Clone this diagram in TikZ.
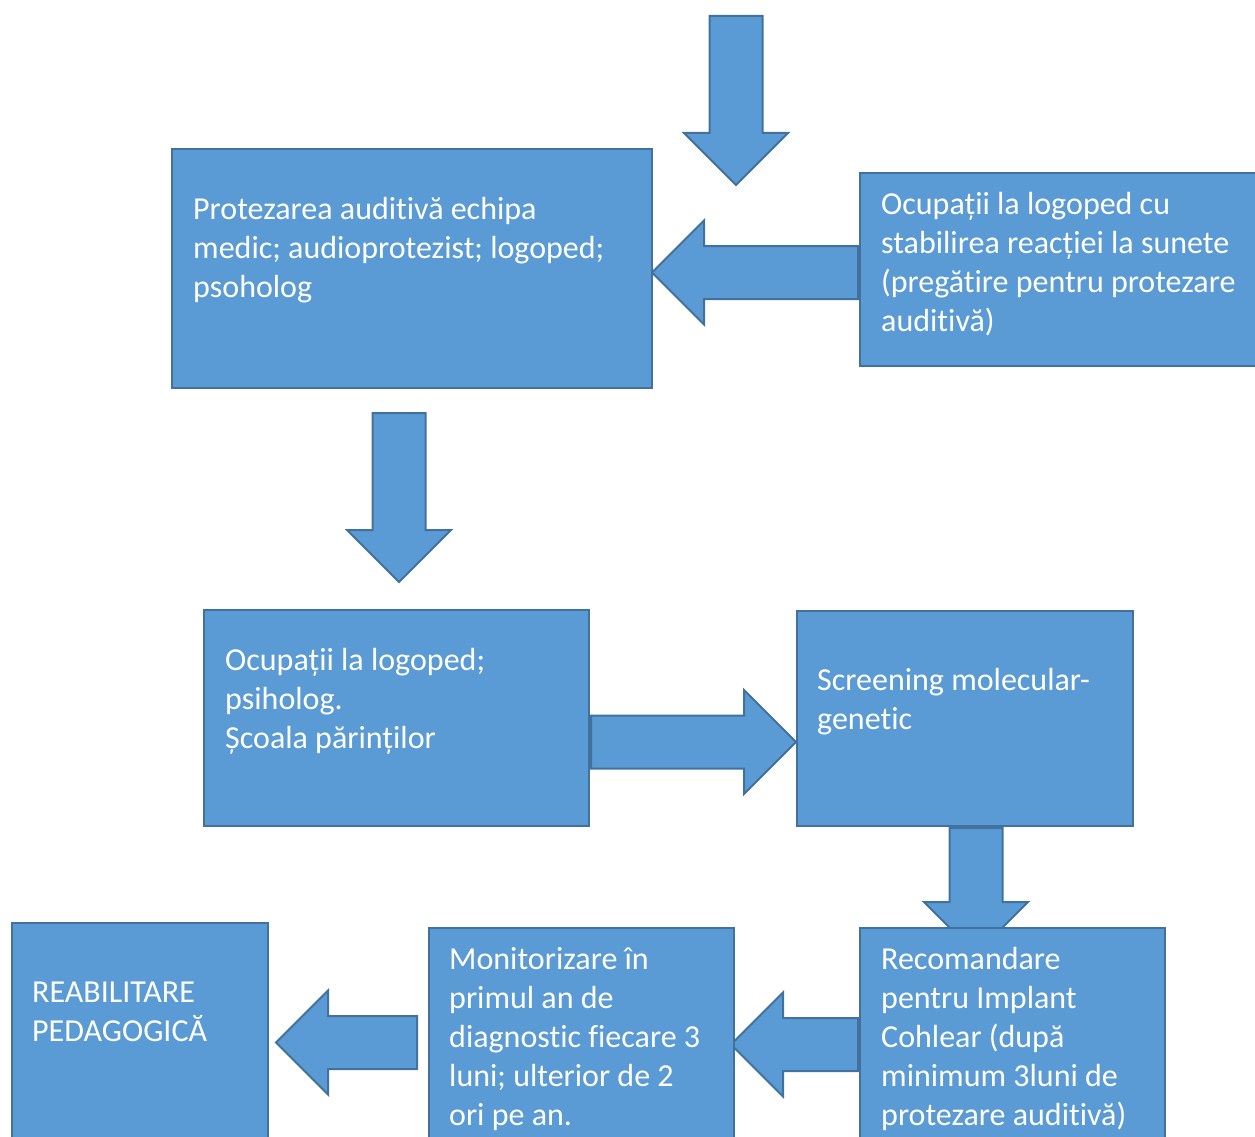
\documentclass[tikz,border=0pt]{standalone}
\usepackage{fontspec}
\setmainfont{Carlito}[Ligatures=NoCommon]
\usepackage{tikz}
\usetikzlibrary{shapes.arrows, calc, backgrounds}
\definecolor{boxblue}{HTML}{5B9BD5}
\definecolor{boxedge}{HTML}{41719C}

\tikzset{
  stepbox/.style={draw=boxedge, fill=boxblue, line width=2pt, inner sep=0pt, anchor=north west},
  boxtext/.style={text=white, align=left, inner sep=0pt, anchor=north west,
    font=\fontsize{32}{39}\selectfont},
  blockarrow/.style={single arrow, draw=boxedge, fill=boxblue, line width=2pt,
    inner xsep=0pt, inner ysep=25.5pt, single arrow head extend=25.5pt, anchor=tail}
}
\newcommand{\firstline}{\rule{0pt}{30pt}}

\begin{document}
\begin{tikzpicture}[x=1pt, y=-1pt]
  \useasboundingbox (0,0) rectangle (1255,1137);
  % boxes
  \node[stepbox, minimum width=480pt, minimum height=239pt] (b1) at (171,148) {};
  \node[stepbox, minimum width=405pt, minimum height=193pt] (b2) at (859,172) {};
  \node[stepbox, minimum width=385pt, minimum height=216pt] (b3) at (203,609) {};
  \node[stepbox, minimum width=336pt, minimum height=215pt] (b4) at (796,610) {};
  \node[stepbox, minimum width=305pt, minimum height=233pt] (b5) at (859,927) {};
  \node[stepbox, minimum width=305pt, minimum height=233pt] (b6) at (428,927) {};
  \node[stepbox, minimum width=256pt, minimum height=238pt] (b7) at (11,922) {};
  % texts
  \node[boxtext] (t1) at ($(b1.north west)+(22,41)$)
    {\firstline Protezarea auditivă echipa\\medic; audioprotezist; logoped;\\psoholog};
  \node[boxtext] (t2) at ($(b2.north west)+(22,12)$)
    {\firstline Ocupații la logoped cu\\stabilirea reacției la sunete\\(pregătire pentru protezare\\auditivă)};
  \node[boxtext] (t3) at ($(b3.north west)+(22,31)$)
    {\firstline Ocupații la logoped;\\psiholog.\\Școala părinților};
  \node[boxtext] (t4) at ($(b4.north west)+(21,50)$)
    {\firstline Screening molecular-\\genetic};
  \node[boxtext] (t5) at ($(b5.north west)+(22,12)$)
    {\firstline Recomandare\\pentru Implant\\Cohlear (după\\minimum 3luni de\\protezare auditivă)};
  \node[boxtext] (t6) at ($(b6.north west)+(21,12)$)
    {\firstline Monitorizare în\\primul an de\\diagnostic fiecare 3\\luni; ulterior de 2\\ori pe an.};
  \node[boxtext] (t7) at ($(b7.north west)+(21,50)$)
    {\firstline REABILITARE\\PEDAGOGICĂ};
  % block arrows, behind the boxes
  \begin{pgfonlayer}{background}
    \coordinate (start) at (736,15);
    \node[blockarrow, rotate=-90, minimum height=169pt] (a1) at (start) {};
    \node[blockarrow, rotate=180, minimum height=206pt] (a2) at ($(b2.west)+(0,3)$) {};
    \node[blockarrow, rotate=-90, minimum height=169pt] (a3) at ($(b1.south)+(-13,23)$) {};
    \node[blockarrow, minimum height=205pt] (a4) at ($(b3.east)+(0,24)$) {};
    \node[blockarrow, rotate=-90, minimum height=126pt] (a5) at ($(b4.south)+(11,0)$) {};
    \node[blockarrow, rotate=180, minimum height=127pt] (a6) at (b5.west) {};
    \node[blockarrow, rotate=180, minimum height=141pt] (a7) at ($(b6.west)+(-10,-2)$) {};
  \end{pgfonlayer}
\end{tikzpicture}
\end{document}
